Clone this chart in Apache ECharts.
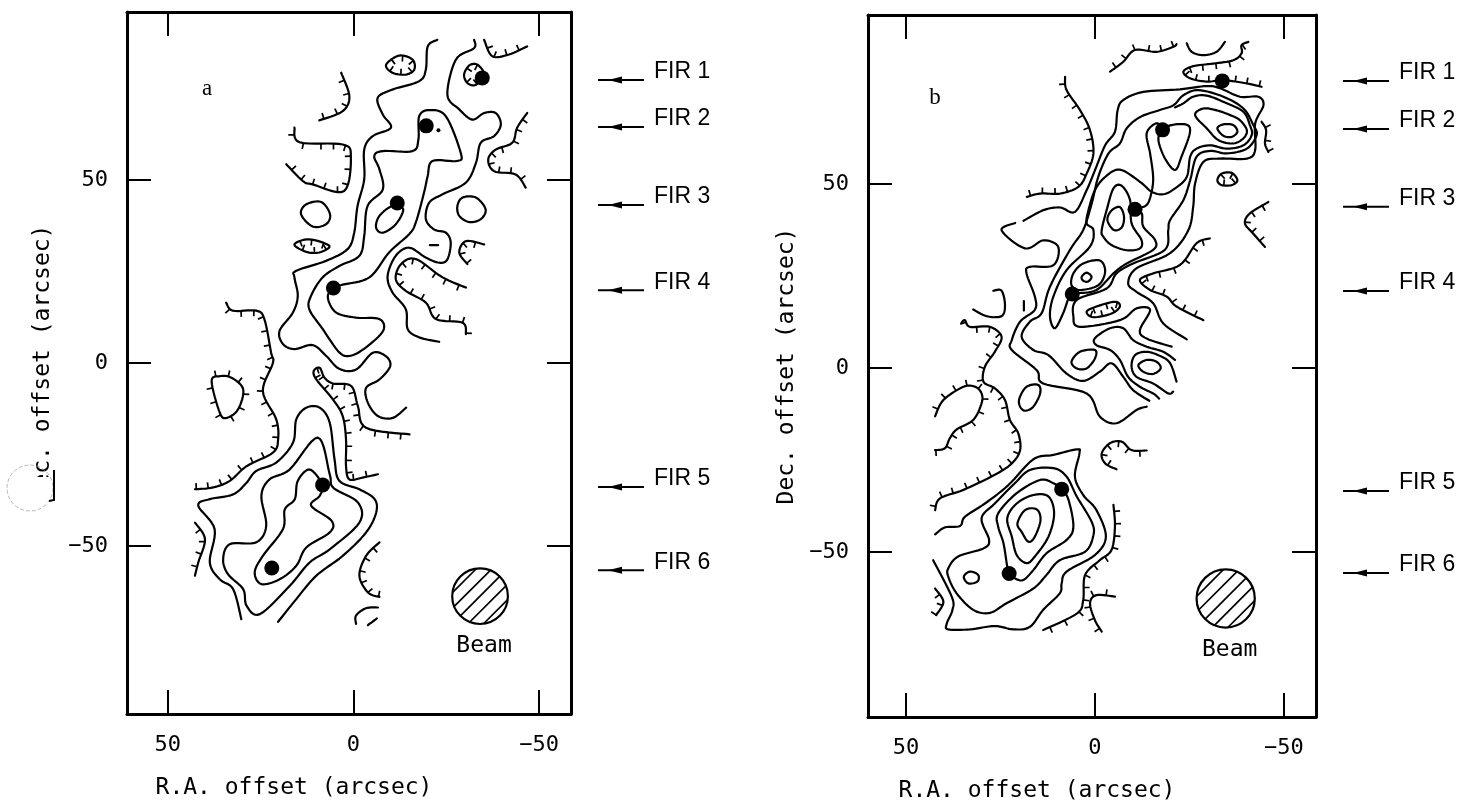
<!DOCTYPE html>
<html><head><meta charset="utf-8">
<style>html,body{margin:0;padding:0;background:#fff}#c{width:1482px;height:804px}</style>
<script src="https://cdn.jsdelivr.net/npm/echarts@6/dist/echarts.min.js"></script>
</head><body><div id="c"></div>
<script>
// ---------- tick labels and FIR sources ----------
const tickValues = [50, 0, -50];
const firLabels = ['FIR 1','FIR 2','FIR 3','FIR 4','FIR 5','FIR 6'];
const firPosA = [[-34.7,77.9],[-19.6,64.8],[-11.8,43.7],[5.4,20.5],[8.3,-33.3],[22,-56]];
const firPosB = [[-33.7,78],[-17.9,64.7],[-10.6,43.1],[6,20.1],[8.8,-32.9],[22.7,-55.8]];
const firArrowDecA = [77.3,64.5,43.2,19.9,-33.9,-56.6];
const firArrowDecB = [78,64.9,43.8,20.9,-33.4,-55.7];
const beamA = [-34.1,-63.7,7.5];
const beamB = [-34.6,-62.6,7.7];
const speckA = [[-22.9,63.6]];

// ---------- panel a, plain contours ----------
const aWest = [[-22.6,88.3],[-20,86.5],[-19.5,80.2],[-17.7,77],[-10.5,74.7],[-6.5,72.4],[-7.9,67.9],[-10.1,64.3],[-5.2,62],[-2.9,58.3],[-2.9,50.2],[-1.1,42.9],[-0.2,35.6],[1.6,31.1],[7.4,27.9],[15.4,25.2],[15.9,23.4],[15,18.4],[16.3,13.8],[19.9,8.8],[19,5.2],[15.9,3.8],[11,4.9],[7.4,2],[3.8,-1.6],[-0.7,-1.8],[-5.2,2.8],[-8.8,1.8],[-9.9,-0.9],[-7,-4.5],[-3.4,-6.8],[-3.9,-10.9],[-6.6,-14.5],[-10.6,-15],[-14.2,-12.2]];
const aEast = [[-32.5,88.3],[-32.5,86],[-27.6,82.9],[-25.3,73.3],[-28.5,69.3],[-32,66.5],[-35.2,68.3],[-38.3,68.3],[-39.7,65.2],[-37.9,62],[-34.3,60.2],[-33,54.7],[-30.3,49.3],[-24,46.1],[-20.4,43.8],[-19.5,39.3],[-21.7,36.5],[-24.9,35.6],[-26.2,32.9],[-25.3,28.3],[-23.1,27.4],[-19.5,28.8],[-15,31.5],[-11.4,29.3],[-9.2,23.8],[-10.5,19.3],[-14.1,14.7],[-14.6,9.3],[-17.7,7],[-23.1,5.8]];
const aRidge = [[5.4,20.6],[2.9,21.4],[-4.3,23.4],[-9.6,30.2],[-15,35.2],[-16.8,38.4],[-19,46.5],[-20,51.1],[-21.3,55.2],[-28,55.2],[-28.9,57.4],[-24.9,67.4],[-20.4,69.1],[-17.7,67.4],[-17.5,61.1],[-15.9,57.9],[-7.9,57.9],[-5.6,56.5],[-7,52.9],[-7.9,47.4],[-3.8,42.9],[-2.9,34.7],[-1.6,29.3],[3.8,26.5],[8.3,23.4],[11.4,18.4],[11.9,14.7],[8.3,9.3],[3.8,2.9],[0.7,2],[-3.4,4.3],[-8,8.8],[-7,12],[-0.7,12.4],[4.7,13.8],[6.9,17.9],[5.4,20.6]];
const aFir3Loop = [[-10.5,42.9],[-7,40.2],[-6.1,37],[-7.9,35.6],[-11.4,37.9],[-13.4,42],[-10.5,42.9]];
const aCircleW = [[14.1,40.6],[12.8,43.3],[8.7,44],[6.3,40.6],[7.4,37.9],[11,37.3],[14.1,40.6]];
const aCircleE = [[-28,42.9],[-29.4,45.2],[-33,45.2],[-35.6,42],[-34.3,39.3],[-31.2,38.5],[-28.5,40.2],[-28,42.9]];
const aDash = [[-20.6,32.2],[-22.8,32.2]];
const aArc1 = [[-0.7,-71.3],[-0.7,-69],[-3.4,-67],[-6.6,-66.8]];
const aArc2 = [[-3.9,-71.6],[-6.3,-69.8]];
const aSouth1 = [[30.2,-70],[32.4,-61.8],[36,-59.1],[38.7,-54.5],[37.4,-45.4],[41.8,-39],[38.7,-37.2],[32.4,-35.9],[28.8,-32.7],[26.2,-29.5],[20.8,-27.2],[16.3,-21.8],[15.4,-15.4],[12.7,-12.2],[9.1,-12.2],[6.4,-16.3],[5.1,-26.3],[3.8,-32.2],[-1.6,-34.5],[-5.7,-37.2],[-6.1,-40.9],[-3.4,-46.3],[2.9,-52.7],[10,-58.1],[15.4,-64.5],[20.3,-70.7]];
const aSouth2 = [[35.1,-53.6],[33.3,-49.5],[26.2,-49],[23.5,-44.5],[24.8,-36.3],[22.6,-31.8],[17.2,-29.1],[9.6,-20.4],[6.4,-30.4],[5.4,-34.1],[-1.2,-38.1],[-1.6,-43.6],[6.4,-50.9],[11.8,-54.5],[17.2,-60.9],[25.2,-68.6],[28.8,-66.3],[29.7,-61.8],[33.8,-57.7],[35.1,-53.6]];
const aSouth3 = [[8.4,-33.2],[11.8,-29.1],[15,-32.2],[15.8,-37.2],[18.5,-40],[19,-45.4],[24.4,-52.7],[26.6,-57.2],[24.8,-60.4],[19.9,-59.1],[15.4,-55.4],[12.7,-50.4],[6.4,-46.3],[5.9,-43.1],[11.4,-39],[9.1,-36.3],[8.4,-33.2]];

// ---------- panel a, hachured contours ----------
const aH1 = [[-8.8,81.5],[-12.3,84],[-15.9,82.9],[-16.4,80.2],[-14.1,78.8],[-10.5,79.3]];
const aH2 = [[15.9,32.4],[11.9,33.8],[6.5,32],[9.2,30.2],[12.8,30.4]];
const aH3 = [[-29.8,78.8],[-31.2,81.3],[-33.4,81.5],[-35.2,78.8],[-33,76],[-30.7,76.5]];
const aH4 = [[-35.2,88.3],[-37.4,83.8],[-41.9,84.3],[-46.8,86.5]];
const aH5 = [[3.3,79.3],[1.1,72.9],[2.9,68.8],[9.2,66.3]];
const aH6 = [[15.9,64.3],[14.5,60.3],[2.9,59.7],[0.7,56.5],[2.5,47],[11,48.8],[13.6,49.7],[18.1,54.3]];
const aH7 = [[-46.8,68.3],[-44.1,64.3],[-42.8,60.2],[-38.3,58.3],[-36.3,55.6],[-37.9,52.4],[-43.7,51.5],[-46.4,47.9]];
const aH8 = [[-35.2,32.4],[-30.3,33.3],[-28.5,30.2],[-30.7,27]];
const aH9 = [[-30.3,20.6],[-24,23.4],[-16.8,28.4],[-12.8,27],[-11.4,22.9],[-14.1,19.7],[-19.5,16.5],[-22.2,12],[-29.4,11],[-30.3,7.9]];
const aH10 = [[34.3,16.5],[32.5,14.3],[26.2,14.3],[24,12],[22.2,2.9],[21.7,0],[24.4,-7.7],[20.8,-15.4],[20.3,-20.9],[21.7,-24.5],[28.8,-28.2],[33.3,-32.2],[37.8,-34],[42.7,-34.5]];
const aH11 = [[38.2,-5],[36,-3.6],[32.9,-4],[29.7,-7.2],[31.1,-12.7],[34.2,-15],[36,-13.6]];
const aH12 = [[-15.1,-19.5],[-3.4,-17.7],[-1.2,-11.8],[0.6,-6.3],[5.5,-5.6],[7.8,-4],[9.1,-1.3],[10.7,-2.2],[10,-4.5],[5.5,-10],[2.9,-14.5],[2,-20.9],[2,-28.2],[1.1,-31.8],[-2.5,-31.3],[-6.6,-30.4]];
const aH13 = [[42.7,-43.6],[40,-48.1],[41.8,-54.5],[42.7,-58.1]];
const aH14 = [[-7,-49],[-3.4,-52.7],[-1.6,-58.1],[-3.9,-62.7],[-7,-63.9]];

// ---------- panel b, plain contours ----------
const bOuter = [[18.9,40],[13.6,42.9],[9.2,43.6],[5.3,42.4],[2.2,48.3],[0,53.7],[-2.7,60.5],[-5.3,64.2],[-6,70],[-7.5,72.8],[-12.8,75],[-22.5,75.7],[-29.6,76.6],[-33.1,76],[-38.4,73.7],[-43.2,73.7],[-44.6,71.4],[-42.4,66.4],[-42.4,59.2],[-40.2,56.9],[-33.1,56.9],[-28.7,56],[-26.5,50.1],[-26,43.8],[-24.7,37.4],[-19.9,31.2],[-11,27.1],[-8.8,23],[-11,20.7],[-15.4,17.6],[-18.1,12.1],[-24.3,7.8]];
const bWest1 = [[21.1,39.4],[24.7,37.4],[18.5,32.5],[13.6,34.7],[9.7,32.9],[11,27.9],[17.2,27.5],[18.1,25.7],[15.9,19.4],[15.9,15.8],[19.8,12.6],[22,7.6],[22,4.9],[15.4,-0.6],[13.7,-4.2],[2.2,-6.9],[-1.3,-13.2],[-5.7,-15],[-11,-11.4],[-13.7,-10.5]];
const bSecond = [[-14.4,-8.9],[-10.1,-6],[-7.5,-2.4],[-4.4,1.3],[-1.3,-1],[3.1,-3.5],[7.5,-1.5],[12.3,3.5],[16.3,4.9],[19.4,8.5],[17.2,12.6],[14.1,14.9],[11.9,22.1],[6.6,32.1],[3.1,37.5],[0.85,44.7],[-0.9,52],[-3.6,58.3],[-6.6,61],[-8.4,65.1],[-12,68.2],[-17.2,70.1],[-20.8,71.4],[-23.4,74.1],[-27.4,75.5],[-34,73.7],[-39.3,70.5],[-41.9,66],[-42.8,63.3],[-40.2,59.6],[-34.9,58.3],[-30.5,59],[-26.9,57.4],[-25.2,51],[-23.4,45.6],[-19.9,40.2],[-19.4,37.4],[-18.5,32.1],[-10.1,28.4],[-5.7,25.7],[-3.1,21.6],[4.8,18.5],[5.7,14],[4,11.2],[-6.6,13],[-11,16.2],[-14.6,15.8],[-11.9,10.3],[-13.7,8],[-20.3,5.8]];
const bThird = [[-21.2,70.8],[-23.4,71.9],[-26,73.7],[-29.6,74],[-34.9,71.9],[-39.3,69.6],[-41,66],[-41.5,63.3],[-39.3,60.5],[-34.9,59.6],[-30.5,60.5],[-26.9,59.6],[-25.2,57.4],[-24.3,51.9],[-21.2,48.8],[-18.1,47.2],[-15,47.9],[-11.9,50.6],[-6.6,53.9],[-2.7,51.9],[0,48.3],[1.7,42.9],[2.2,39.3],[0.4,37.5],[1.3,33],[7.5,26.6],[11,19.4],[11.9,14],[10.6,10.8],[8.4,14.9],[7,18.9],[6,20.1],[4.8,20.3],[-0.4,21.2],[-4.9,25.7],[-8.4,28.4],[-15.4,32.1],[-15.9,34.8],[-12.8,38.4],[-12.4,42],[-10.6,43.1],[-13.7,44.3],[-15,47.9],[-15.4,52],[-14.6,58.3],[-13.7,63.8],[-16.3,66.5],[-17.9,64.7]];
const bFir3Loop = [[-1.8,37.5],[-3.1,42.9],[-4.9,48.8],[-7.1,49.5],[-9.3,45.6],[-9.7,39.3],[-12.3,34.8],[-11.9,32.5],[-8.4,32],[-4.4,33.4],[-2.2,35.7],[-1.8,37.5]];
const bFir3Inner = [[-3.3,40.2],[-4.4,42.8],[-6.6,43.7],[-7.7,41.1],[-7.1,38.2],[-5,37.5],[-3.3,40.2]];
const bFir2Loop = [[-17.9,64.7],[-16.8,62],[-18.5,57],[-21.2,53.8],[-22.9,57.4],[-25.1,63.8],[-24.3,66.1],[-20.3,66],[-17.9,64.7]];
const bKnot1 = [[-26.5,68.7],[-28.7,70.5],[-32.2,70],[-35.8,68.7],[-38.4,67.3],[-40.2,64.6],[-39.3,62.4],[-36.6,61],[-32.7,61.9],[-29.6,65.1],[-26.5,68.7]];
const bKnot2 = [[-32.4,65.1],[-34,66.2],[-36.6,66],[-37.7,64.2],[-36.2,62.8],[-34,63.1],[-32.4,65.1]];
const bMid1 = [[-21.2,2.2],[-18.1,4.4],[-13.7,5.8],[-10.1,7.6],[-7.5,10.8],[-4,10.8],[0,8.1],[-0.4,6.2],[-4,4.9],[-6.6,2.2],[-8.8,-2.4],[-11.9,-5.1],[-15.4,-6.9],[-17,-8.3]];
const bMid2 = [[-21.6,-3.7],[-19.9,1.3],[-17.2,3.3],[-13.7,4.4],[-10.6,3.5],[-9.7,0.4],[-11,-2.4],[-15.4,-4.2],[-19.4,-6.9],[-20.7,-6.4]];
const bMid3 = [[-11.5,0.8],[-13.7,2.2],[-16.3,1.7],[-17.4,-0.1],[-15.4,-1.6],[-12.8,-1],[-11.5,0.8]];
const bMid4 = [[6.2,1.7],[4,4.4],[0,4.9],[0,2.6],[2.2,-0.1],[4.8,-0.1],[6.2,1.7]];
const bFir4Loop = [[6.2,22.5],[5.7,25.7],[3.1,28.4],[-1.3,29.2],[-2.7,26.2],[-0.9,22.5],[4,21.2],[6.2,22.5]];
const bFir4Inner = [[3.5,24.8],[2.2,25.9],[0.9,24.8],[1.8,23.5],[3.1,23.7],[3.5,24.8]];
const bIsland = [[20,-8.3],[18.1,-5.1],[15,-4.6],[14.5,-6.9],[16.3,-10.5],[18.5,-11.6],[19.8,-10.5],[20,-8.3]];
const bOval = [[18.8,18.2],[18.8,15.6]];
const bHook = [[32.2,15.9],[28.7,14.1],[24.7,14.1],[23.8,17.1],[24.7,21],[26.9,21]];
const bCup = [[-24.3,88.2],[-25.6,85.9],[-28.7,85],[-32.2,85.9],[-34.4,88.6]];
const bS1 = [[42.3,-45.2],[39.7,-43.3],[35.7,-42.9],[34.4,-40.4],[29.1,-36.8],[22.9,-31.8],[16.3,-24.8],[11,-23.6],[4.8,-22.1],[4.1,-23.2],[5.3,-29.5],[3.1,-34.5],[-0.4,-38.6],[-2.9,-45.8],[0,-50.8],[7.5,-55.3],[8.8,-58.5],[9.3,-61.2],[13.7,-65.7],[17.2,-70.3],[21.6,-71],[26.5,-70.1],[33.1,-71],[38.8,-71],[39.2,-69.4],[37.7,-65.7],[37.9,-62.1],[42.8,-52.2]];
const bS2 = [[38.8,-54.4],[36.2,-51.2],[29.5,-49],[28,-46.7],[30,-40.8],[26.5,-36.8],[21.2,-31.3],[17.2,-27.7],[11,-27.2],[7.5,-29.5],[4.8,-34.9],[0.9,-41.7],[0.4,-45.4],[2.6,-49.9],[9.3,-52.2],[12.8,-56.2],[16.3,-59.9],[23.4,-63.9],[27.8,-66.5],[32.2,-65.7],[36.6,-61.2],[38.8,-56.7],[38.8,-54.4]];
const bS3 = [[22.7,-55.8],[23.2,-54],[24.2,-47.6],[25.6,-43.1],[25.6,-39.5],[20.7,-34],[14.5,-30.4],[11,-31.3],[8.8,-32.9],[7,-35.8],[5.7,-43.1],[7.5,-46.7],[12.8,-50.3],[16.3,-54.9],[19,-57.6],[21.2,-57.1],[22.7,-55.8]];
const bS4 = [[23.2,-40.8],[20.7,-36.8],[16.3,-34.5],[12.3,-34.9],[10.8,-39.5],[12.3,-45.8],[15.9,-51.2],[18.1,-53],[20.7,-50.8],[22,-45.8],[23.2,-40.8]];
const bS5 = [[20.5,-42.2],[18.5,-38.6],[15.4,-38.4],[14.4,-41.3],[15.9,-45.8],[17.6,-47.2],[19.4,-44.5],[20.5,-42.2]];
const bS6 = [[34.7,-56.7],[33.1,-55.3],[30.9,-56.2],[31.1,-58],[33.5,-58.5],[34.7,-56.7]];

// ---------- panel b, hachured contours ----------
const bH1 = [[-4,80.5],[-7.5,83.2],[-10.6,86.4],[-16.3,85.9],[-20.8,87.3],[-21.6,88]];
const bH2 = [[-40.6,88.6],[-38.8,87.7],[-38.8,85.5],[-36.6,83.6],[-31.3,82.7],[-26,82],[-23.4,80.5],[-25.2,78.7],[-29.6,77.8],[-34,78.2],[-40.2,77.3],[-44.1,76.4]];
const bH3 = [[-44.1,66.9],[-45.3,64.6],[-45,61],[-45.9,58.7]];
const bH4 = [[-32.4,51],[-33.5,52.8],[-36.2,53],[-37.7,51],[-36.2,49.7],[-33.5,49.7]];
const bH5 = [[-45.9,45.1],[-41,42],[-39.7,39.3],[-41.9,36.5],[-45,32.9]];
const bH6 = [[7.9,79.1],[7.5,75.5],[3.9,70],[1.3,64.6],[0.4,58.3],[2.2,52.8],[4.4,49.2],[9.2,47.4],[14.5,47.4],[18,46.5]];
const bH7 = [[2.2,15.3],[-0.4,16.7],[-5.3,18],[-6.6,16.7],[-4.4,14.8],[0.4,13.8]];
const bH8 = [[35.3,12.3],[34.4,13],[33.1,11.2],[27.8,11.2],[24.7,8.5],[26.5,4.4],[29.1,0.4],[29.5,-3.7],[26.5,-5.5],[23.8,-8.7],[22.5,-14.1],[20.3,-17.7],[19.8,-22.3],[22,-25.9],[26.5,-29],[34.8,-33.1],[41,-35.4],[42.3,-38.6]];
const bH9 = [[42.3,-13.1],[40.1,-8.7],[34.8,-5.1],[31.7,-5.1],[30,-6.9],[30,-9.6],[32.2,-14.1],[36.6,-16.7],[38.4,-19.1],[39.7,-21.8],[42.3,-22.3]];
const bH10 = [[-30.4,35.2],[-26.9,33.9],[-22.5,28],[-15.4,25.7],[-11.9,23.9],[-14.6,21.2],[-19,19.4],[-21.6,16.7],[-28.7,13]];
const bH11 = [[42.3,-59.9],[40.1,-63.5],[42,-67.1]];
const bH12 = [[-13.7,-22.4],[-9.7,-22.3],[-7.1,-20],[-4,-20.4],[-1.8,-23.2],[-2.7,-25.9],[-5.7,-27.5]];
const bH13 = [[-4.9,-37.2],[-5.3,-43.1],[-4.4,-49.4],[-1.3,-52.2],[2.6,-56.2],[3.1,-63],[4.8,-66.7],[13.7,-71.2]];
const bH14 = [[-5.3,-62.1],[-0.4,-61.7],[1.3,-63.9],[0,-68.5],[-1.8,-71.6]];

const plainA = [aWest,aEast,aRidge,aFir3Loop,aCircleW,aCircleE,aDash,aArc1,aArc2,aSouth1,aSouth2,aSouth3];
const plainB = [bOuter,bWest1,bSecond,bThird,bFir3Loop,bFir3Inner,bFir2Loop,bKnot1,bKnot2,bMid1,bMid2,bMid3,bMid4,bFir4Loop,bFir4Inner,bIsland,bOval,bHook,bCup,bS1,bS2,bS3,bS4,bS5,bS6];
// [points, side of the hachures (+1 right of travel, -1 left), closed]
const hachA = [[aH1,1,1],[aH2,1,1],[aH3,1,1],[aH4,-1,0],[aH5,1,0],[aH6,1,0],[aH7,-1,0],[aH8,-1,0],[aH9,-1,0],[aH10,1,0],[aH11,-1,1],[aH12,-1,0],[aH13,1,0],[aH14,-1,0]];
const hachB = [[bH1,-1,0],[bH2,-1,0],[bH3,-1,0],[bH4,1,1],[bH5,-1,0],[bH6,1,0],[bH7,1,1],[bH8,1,0],[bH9,-1,0],[bH10,-1,0],[bH11,1,0],[bH12,-1,0],[bH13,-1,0],[bH14,1,0]];

const MONO = '"DejaVu Sans Mono"';
const INK = '#000';

function catmull(p, closed){
  const out=[], n=p.length, g=i=>closed?p[(i+n)%n]:p[Math.max(0,Math.min(n-1,i))];
  const segs = closed?n:n-1;
  for(let i=0;i<segs;i++){
    const a=g(i-1),b=g(i),c=g(i+1),d=g(i+2);
    for(let k=0;k<8;k++){
      const t=k/8,t2=t*t,t3=t2*t;
      out.push([0,1].map(j=>0.5*(2*b[j]+(c[j]-a[j])*t+(2*a[j]-5*b[j]+4*c[j]-d[j])*t2+(3*b[j]-a[j]-3*c[j]+d[j])*t3)));
    }
  }
  out.push(closed?out[0]:p[n-1]);
  return out;
}
function contourItem(pts,side,closed){
  return function(params, api){
    const px=catmull(pts.map(q=>api.coord(q)), !!closed);
    const kids=[{type:'polyline',shape:{points:px},style:{stroke:INK,lineWidth:2.2,fill:null,lineJoin:'round',lineCap:'round'}}];
    if(side){
      let run=5;
      for(let i=1;i<px.length;i++){
        const dx=px[i][0]-px[i-1][0],dy=px[i][1]-px[i-1][1],L=Math.hypot(dx,dy)||1;
        run+=L;
        if(run>=11.5){
          run=0;
          const nx=-dy/L*side,ny=dx/L*side;
          kids.push({type:'line',shape:{x1:px[i][0],y1:px[i][1],x2:px[i][0]+nx*6,y2:px[i][1]+ny*6},style:{stroke:INK,lineWidth:1.7}});
        }
      }
    }
    return {type:'group',children:kids};
  };
}
function beamItem(b){
  return function(params, api){
    const c=api.coord([b[0],b[1]]), r=api.size([b[2],0])[0];
    const kids=[{type:'circle',shape:{cx:c[0],cy:c[1],r:r},style:{stroke:INK,lineWidth:2.2,fill:'#fff'}}];
    for(let off=-22;off<=22;off+=11){
      const hw=Math.sqrt(r*r-off*off), ux=Math.SQRT1_2, uy=-Math.SQRT1_2, mx=c[0]+off*Math.SQRT1_2, my=c[1]+off*Math.SQRT1_2;
      kids.push({type:'line',shape:{x1:mx-ux*hw,y1:my-uy*hw,x2:mx+ux*hw,y2:my+uy*hw},style:{stroke:INK,lineWidth:1.7}});
    }
    kids.push({type:'text',style:{x:c[0]+4,y:c[1]+r+22,text:'Beam',font:'23px '+MONO,fill:INK,align:'center',verticalAlign:'middle'}});
    return {type:'group',children:kids};
  };
}
function firItem(labels){
  return function(params, api){
    const i=params.dataIndex, y=api.coord([0,api.value(1)])[1], cs=params.coordSys, x=cs.x+cs.width+27;
    return {type:'group',children:[
      {type:'line',shape:{x1:x,y1:y,x2:x+46,y2:y},style:{stroke:INK,lineWidth:2}},
      {type:'polygon',shape:{points:[[x+10,y],[x+24,y-3.5],[x+24,y+3.5]]},style:{fill:INK}},
      {type:'text',style:{x:x+56,y:y-8,text:labels[i],font:'23px "Liberation Sans"',fill:INK,align:'left',verticalAlign:'middle'}}
    ]};
  };
}
function fmt(v){return v<0?'\u2212'+Math.abs(v):String(v);}
function axisPair(grid,pos,min,max,inverse,isLabelled,extra){
  const lab={show:isLabelled,customValues:tickValues,color:INK,fontFamily:MONO,fontSize:22,margin:20,formatter:fmt};
  return Object.assign({type:'value',gridIndex:grid,position:pos,min:min,max:max,inverse:inverse,
    axisLine:{show:true,onZero:false,lineStyle:{color:INK,width:3}},
    axisTick:{show:true,inside:true,length:24,customValues:tickValues,lineStyle:{color:INK,width:2}},
    axisLabel:lab,splitLine:{show:false}},extra||{});
}
const xName={name:'R.A. offset (arcsec)',nameLocation:'middle',nameGap:63,
  nameTextStyle:{color:INK,fontFamily:MONO,fontSize:23,padding:[0,110,0,0]}};
const yName=g=>({name:'Dec. offset (arcsec)',nameLocation:'middle',nameGap:g,
  nameTextStyle:{color:INK,fontFamily:MONO,fontSize:23}});
const yLabelUp={axisLabel:{show:true,customValues:tickValues,color:INK,fontFamily:MONO,fontSize:22,margin:19,padding:[0,0,12,0],formatter:fmt}};

const series=[];
const ctr=(p,fn,ax)=>series.push(Object.assign({type:'custom',data:[p],renderItem:fn,clip:false,silent:true,animation:false},ax));
function addPanel(idx,plain,hach,fir,arrows,beam){
  const ax={xAxisIndex:idx*2,yAxisIndex:idx*2};
  plain.forEach(p=>{
    const last=p[p.length-1], closed=p.length>2&&p[0][0]===last[0]&&p[0][1]===last[1];
    ctr(p[0],contourItem(closed?p.slice(0,-1):p,0,closed),ax);
  });
  hach.forEach(h=>ctr(h[0][0],contourItem(h[0],h[1],h[2]),ax));
  ctr([beam[0],beam[1]],beamItem(beam),ax);
  series.push(Object.assign({type:'custom',data:arrows.map(d=>[0,d]),renderItem:firItem(firLabels),clip:false,silent:true,animation:false},ax));
  series.push(Object.assign({type:'scatter',data:fir,symbol:'circle',symbolSize:15,itemStyle:{color:'#000',opacity:1},silent:true,animation:false,z:5},ax));
}
addPanel(0,plainA,hachA,firPosA,firArrowDecA,beamA);
addPanel(1,plainB,hachB,firPosB,firArrowDecB,beamB);
series.push({type:'scatter',xAxisIndex:0,yAxisIndex:0,data:speckA,symbolSize:4,itemStyle:{color:'#000',opacity:1},silent:true,animation:false});

const chart=echarts.init(document.getElementById('c'),null,{renderer:'canvas'});
chart.setOption({
  backgroundColor:'#fff',animation:false,
  grid:[{left:127,top:12,width:444,height:702,containLabel:false,outerBoundsMode:'none'},{left:868,top:15,width:448,height:702,containLabel:false,outerBoundsMode:'none'}],
  xAxis:[
    axisPair(0,'bottom',-58.6,61,true,true,xName),
    axisPair(0,'top',-58.6,61,true,false),
    axisPair(1,'bottom',-58.5,60.05,true,true,xName),
    axisPair(1,'top',-58.5,60.05,true,false)
  ],
  yAxis:[
    axisPair(0,'left',-95.9,95.9,false,true,Object.assign({},yName(72),yLabelUp)),
    axisPair(0,'right',-95.9,95.9,false,false),
    axisPair(1,'left',-94.8,95.9,false,true,Object.assign({},yName(69),yLabelUp)),
    axisPair(1,'right',-94.8,95.9,false,false)
  ],
  series:series,
  graphic:[
    {type:'rect',z:100,shape:{x:25,y:477,width:27,height:32},style:{fill:'#fff'}},
    {type:'circle',z:101,shape:{cx:30,cy:488,r:23},style:{fill:null,stroke:'#999',lineWidth:0.7,lineDash:[4,2]}},
    {type:'polyline',z:101,shape:{points:[[54,470],[54,500],[49,501]]},style:{stroke:INK,lineWidth:2,fill:null}},
    {type:'text',z:100,x:207,y:89,style:{text:'a',font:'23px "Liberation Serif"',fill:INK,align:'center',verticalAlign:'middle'}},
    {type:'text',z:100,x:935,y:98,style:{text:'b',font:'23px "Liberation Serif"',fill:INK,align:'center',verticalAlign:'middle'}}
  ]
});
</script></body></html>
